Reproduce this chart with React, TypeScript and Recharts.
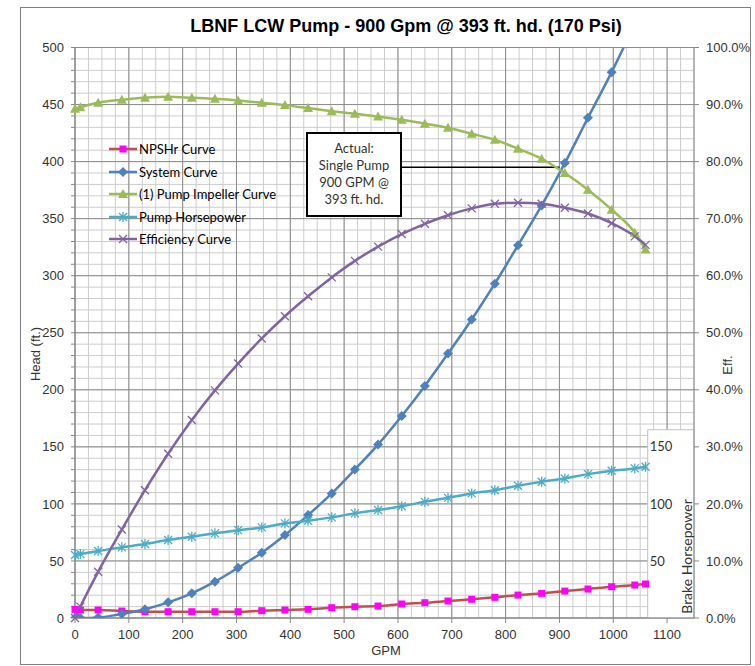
import React from 'react'
import {
  LineChart,
  Line,
  XAxis,
  YAxis,
  CartesianGrid,
  ReferenceLine,
  ReferenceArea,
  Legend,
} from 'recharts'

// flow points (GPM) shared by every curve
const gpm = [0, 10, 43, 87, 130, 173, 217, 260, 303, 347, 390, 433, 477, 520, 563, 607, 650, 693, 737, 780, 823, 867, 910, 953, 997, 1040, 1060]

// head / hp / efficiency
const npshr = [7.6, 7.0, 7.0, 6.1, 5.5, 5.5, 5.5, 5.5, 5.5, 6.4, 7.0, 7.6, 9.0, 9.9, 10.5, 12.3, 13.4, 14.9, 16.4, 18.1, 20.1, 21.6, 23.6, 25.4, 27.4, 28.9, 29.8]
const systemHead = [0, 0, 0.5, 3.5, 7.6, 13.7, 21.6, 31.8, 44, 57.2, 72.7, 90.2, 109.2, 130.2, 152, 177, 203.4, 231.8, 261.6, 293, 326.6, 361.6, 398.7, 438.4, 478.4, 521, 542]
const impellerHead = [446.3, 447.7, 451.6, 454.2, 456, 456.8, 456, 455, 453.6, 451.6, 449.5, 446.9, 444.2, 441.9, 439.6, 436.7, 433.2, 429.7, 424.4, 419.2, 411.3, 402.5, 390, 375.4, 357.9, 337.7, 323]
const pumpHp = [55.2, 56, 58.7, 61.9, 64.8, 68.3, 71.2, 74.2, 77, 79.4, 82.9, 85.2, 88.2, 91.7, 94.6, 98, 101.8, 105.3, 109.2, 112, 115.9, 119.4, 122.3, 126.1, 129, 131.1, 132.5]
const efficiency = [0, 2, 8.1, 15.5, 22.4, 28.8, 34.7, 39.9, 44.6, 49, 52.9, 56.4, 59.7, 62.6, 65.1, 67.3, 69.1, 70.6, 71.8, 72.6, 72.8, 72.6, 71.9, 70.9, 69.2, 66.9, 65.4]

// axis ticks
const xTicks = [0, 100, 200, 300, 400, 500, 600, 700, 800, 900, 1000, 1100]
const headLabels = [0, 50, 100, 150, 200, 250, 300, 350, 400, 450, 500]
const effTicks = [0, 10, 20, 30, 40, 50, 60, 70, 80, 90, 100]
const hpLabels = [50, 100, 150]

// operating point callout
const OP_GPM = 900
const OP_HEAD = 395
const CALLOUT_GPM = 607
const HP_BOX = { x1: 1064, x2: 1150, top: 165 }

const range = (a: number, b: number, step: number) => {
  const out: number[] = []
  for (let v = a; v <= b + 1e-9; v += step) out.push(v)
  return out
}
const headTicks = range(0, 500, 10)
const minorX = range(0, 1150, 25)
const majorX = range(0, 1100, 100)
const majorY = headLabels

const data = gpm.map((g, i) => ({
  gpm: g,
  npshr: npshr[i],
  system: systemHead[i],
  impeller: impellerHead[i],
  hp: pumpHp[i],
  eff: efficiency[i],
}))

const ARIAL = '"Liberation Sans", Arial, sans-serif'
const CALIBRI = 'Lato, "Open Sans", sans-serif'

type Shape = 'square' | 'diamond' | 'triangle' | 'asterisk' | 'cross'

const series: Array<{ key: string; name: string; line: string; marker: string; shape: Shape; axis: string }> = [
  { key: 'npshr', name: 'NPSHr Curve', line: '#C0504D', marker: '#FF00FF', shape: 'square', axis: 'head' },
  { key: 'system', name: 'System Curve', line: '#4F81BD', marker: '#4F81BD', shape: 'diamond', axis: 'sys' },
  { key: 'impeller', name: '(1) Pump Impeller Curve', line: '#9BBB59', marker: '#9BBB59', shape: 'triangle', axis: 'head' },
  { key: 'hp', name: 'Pump Horsepower', line: '#4BACC6', marker: '#4BACC6', shape: 'asterisk', axis: 'hp' },
  { key: 'eff', name: 'Efficiency Curve', line: '#8064A2', marker: '#8064A2', shape: 'cross', axis: 'eff' },
]

function marker(shape: Shape, color: string, cx: number, cy: number) {
  switch (shape) {
    case 'square':
      return <rect x={cx - 3.5} y={cy - 3.5} width={7} height={7} fill={color} />
    case 'diamond':
      return <polygon points={`${cx},${cy - 5} ${cx + 5},${cy} ${cx},${cy + 5} ${cx - 5},${cy}`} fill={color} />
    case 'triangle':
      return <polygon points={`${cx},${cy - 5} ${cx + 5},${cy + 4} ${cx - 5},${cy + 4}`} fill={color} />
    case 'asterisk':
      return (
        <path
          d={`M${cx - 4},${cy - 4}L${cx + 4},${cy + 4}M${cx - 4},${cy + 4}L${cx + 4},${cy - 4}M${cx},${cy - 5}L${cx},${cy + 5}`}
          stroke={color}
          strokeWidth={1.3}
        />
      )
    default:
      return (
        <path
          d={`M${cx - 4},${cy - 4}L${cx + 4},${cy + 4}M${cx - 4},${cy + 4}L${cx + 4},${cy - 4}`}
          stroke={color}
          strokeWidth={1.3}
        />
      )
  }
}

const makeDot = (shape: Shape, color: string, id: string) => (props: any) => {
  const { cx, cy, index } = props
  if (cx == null || cy == null || isNaN(cx) || isNaN(cy)) return <g key={`${id}-${index}`} />
  return <g key={`${id}-${index}`}>{marker(shape, color, cx, cy)}</g>
}

const LegendBox = () => (
  <div style={{ fontFamily: CALIBRI, fontSize: 13, color: '#000' }}>
    {series.map((s) => (
      <div key={s.key} style={{ display: 'flex', alignItems: 'center', height: 22.5 }}>
        <svg width={29} height={12} style={{ display: 'block' }}>
          <line x1={0} y1={6} x2={28} y2={6} stroke={s.line} strokeWidth={2.5} />
          {marker(s.shape, s.marker, 14, 6)}
        </svg>
        <span style={{ marginLeft: 1, whiteSpace: 'nowrap' }}>{s.name}</span>
      </div>
    ))}
  </div>
)

const tickStyle = { fontSize: 13, fill: '#333', fontFamily: ARIAL }

export default function App() {
  return (
    <div style={{ position: 'absolute', left: 0, top: 0, width: 755, height: 666, background: '#fff' }}>
      <LineChart
        width={755}
        height={666}
        data={data}
        margin={{ top: 47.5, right: 6, bottom: 18, left: 30 }}
      >
        <CartesianGrid
          yAxisId="head"
          horizontalValues={headTicks}
          verticalValues={minorX}
          stroke="#cccccc"
          strokeWidth={1}
        />
        <CartesianGrid
          yAxisId="head"
          horizontalValues={majorY}
          verticalValues={majorX}
          stroke="#8c8c8c"
          strokeWidth={1}
        />
        <XAxis
          dataKey="gpm"
          type="number"
          domain={[0, 1150]}
          ticks={xTicks}
          interval={0}
          height={30}
          tickSize={5}
          tickMargin={7}
          stroke="#868686"
          tick={tickStyle}
        />
        <YAxis
          yAxisId="head"
          domain={[0, 500]}
          ticks={headTicks}
          interval={0}
          width={45}
          tickSize={4}
          tickMargin={7}
          stroke="#868686"
          tick={tickStyle}
          tickFormatter={(v: number) => (v % 50 === 0 ? String(v) : '')}
        />
        <YAxis
          yAxisId="eff"
          orientation="right"
          domain={[0, 100]}
          ticks={effTicks}
          interval={0}
          width={55}
          tickSize={5}
          tickMargin={7}
          stroke="#868686"
          tick={tickStyle}
          tickFormatter={(v: number) => `${v.toFixed(1)}%`}
        />
        <YAxis yAxisId="sys" hide domain={[0, 500]} allowDataOverflow />
        <YAxis yAxisId="hp" hide domain={[0, 500]} />

        <ReferenceArea
          yAxisId="hp"
          x1={HP_BOX.x1}
          x2={HP_BOX.x2}
          y1={0}
          y2={HP_BOX.top}
          fill="#fff"
          fillOpacity={1}
          stroke="#bfbfbf"
        />
        {hpLabels.map((v) => (
          <ReferenceLine
            key={v}
            yAxisId="hp"
            segment={[{ x: HP_BOX.x1, y: v }, { x: HP_BOX.x2, y: v }]}
            stroke="transparent"
            label={{ value: String(v), position: 'insideLeft', offset: 2, fill: '#333', fontSize: 13, fontFamily: CALIBRI }}
          />
        ))}
        <ReferenceLine
          yAxisId="head"
          segment={[{ x: CALLOUT_GPM, y: OP_HEAD }, { x: OP_GPM, y: OP_HEAD }]}
          stroke="#000"
          strokeWidth={1.5}
        />

        {series.map((s) => (
          <Line
            key={s.key}
            yAxisId={s.axis}
            dataKey={s.key}
            name={s.name}
            type="monotone"
            stroke={s.line}
            strokeWidth={2.5}
            dot={makeDot(s.shape, s.marker, s.key)}
            activeDot={false}
            isAnimationActive={false}
          />
        ))}

        <Legend
          layout="vertical"
          align="center"
          verticalAlign="middle"
          wrapperStyle={{ left: 109, top: 138, width: 200 }}
          content={() => <LegendBox />}
        />
      </LineChart>

      <svg
        width={755}
        height={666}
        style={{ position: 'absolute', left: 0, top: 0, pointerEvents: 'none' }}
      >
        <rect x={20.5} y={7.5} width={730} height={657} fill="none" stroke="#7f7f7f" strokeWidth={1} />
        <text x={406} y={32} textAnchor="middle" fontFamily={ARIAL} fontWeight="bold" fontSize={18} fill="#000">
          LBNF LCW Pump - 900 Gpm @ 393 ft. hd. (170 Psi)
        </text>
        <text x={39.5} y={354} transform="rotate(-90 39.5 354)" textAnchor="middle" fontFamily={ARIAL} fontSize={13} fill="#333">
          Head (ft.)
        </text>
        <text x={731.5} y={365} transform="rotate(-90 731.5 365)" textAnchor="middle" fontFamily={ARIAL} fontSize={13} fill="#333">
          Eff.
        </text>
        <text x={386} y={655} textAnchor="middle" fontFamily={ARIAL} fontSize={13} fill="#333">
          GPM
        </text>
        <text x={692} y={556.5} transform="rotate(-90 692 556.5)" textAnchor="middle" fontFamily={CALIBRI} fontSize={14} fill="#333">
          Brake Horsepower
        </text>

        <rect x={307} y={133} width={94} height={83} fill="#fff" stroke="#000" strokeWidth={2} />
        <g fontFamily={CALIBRI} fontSize={13} fill="#333" textAnchor="middle">
          <text x={354} y={152.7}>Actual:</text>
          <text x={354} y={170}>Single Pump</text>
          <text x={354} y={186.7}>900 GPM @</text>
          <text x={354} y={204}>393 ft. hd.</text>
        </g>
      </svg>
    </div>
  )
}
